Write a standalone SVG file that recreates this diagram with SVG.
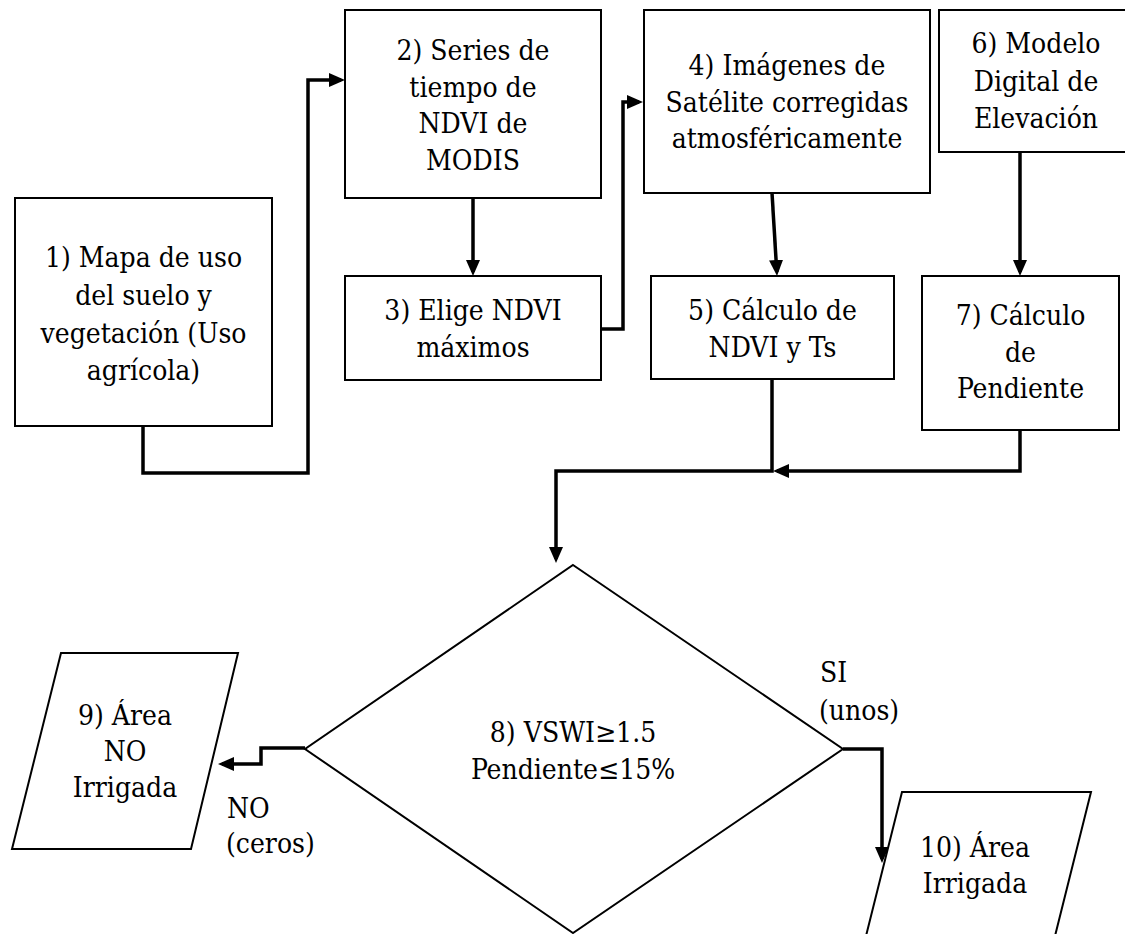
<svg xmlns="http://www.w3.org/2000/svg" width="1125" height="934" viewBox="0 0 1125 934">
<style>
.n{fill:#fff;stroke:#000;stroke-width:2}
text{font-family:'DejaVu Serif Condensed','DejaVu Serif',serif;font-stretch:condensed;font-size:28px;fill:#000}
.t{text-anchor:middle}
.c{fill:none;stroke:#000;stroke-width:3.5;marker-end:url(#ah)}
</style>
<defs>
<marker id="ah" viewBox="0 0 16 14" refX="12" refY="7" markerWidth="16" markerHeight="14" markerUnits="userSpaceOnUse" orient="auto">
<path d="M0,0 L16,7 L0,14 z" fill="#000"/>
</marker>
</defs>
<rect width="1125" height="934" fill="#fff"/>
<g id="connectors">
<path class="c" d="M143,426 V473 H308 V80 H341"/>
<path class="c" d="M473,198 V272"/>
<path class="c" d="M601,329 H623 V102 H639"/>
<path class="c" d="M772,193 L776.8,272"/>
<path class="c" d="M1020,151 V272"/>
<path class="c" d="M772,379 V471 H556 V559"/>
<path class="c" d="M1020,430 V471 H777"/>
<path class="c" d="M305,748 H261 V764 H222"/>
<path class="c" d="M843,749 H882 V859"/>
</g>
<g id="n1"><rect class="n" x="15" y="198" width="257" height="228"/>
<text class="t"><tspan x="143.5" y="267">1) Mapa de uso</tspan><tspan x="143.5" y="305">del suelo y</tspan><tspan x="143.5" y="343">vegetación (Uso</tspan><tspan x="143.5" y="380">agrícola)</tspan></text></g>
<g id="n2"><rect class="n" x="345" y="10" width="256" height="188"/>
<text class="t"><tspan x="473" y="60">2) Series de</tspan><tspan x="473" y="97">tiempo de</tspan><tspan x="473" y="133">NDVI de</tspan><tspan x="473" y="170">MODIS</tspan></text></g>
<g id="n3"><rect class="n" x="345" y="276" width="256" height="104"/>
<text class="t"><tspan x="473" y="320">3) Elige NDVI</tspan><tspan x="473" y="357">máximos</tspan></text></g>
<g id="n4"><rect class="n" x="644" y="10" width="286" height="183"/>
<text class="t"><tspan x="787" y="75">4) Imágenes de</tspan><tspan x="787" y="112">Satélite corregidas</tspan><tspan x="787" y="148">atmosféricamente</tspan></text></g>
<g id="n5"><rect class="n" x="651" y="276" width="243" height="103"/>
<text class="t"><tspan x="772.5" y="320">5) Cálculo de</tspan><tspan x="772.5" y="357">NDVI y Ts</tspan></text></g>
<g id="n6"><rect class="n" x="939" y="10" width="194" height="142"/>
<text class="t"><tspan x="1036" y="53">6) Modelo</tspan><tspan x="1036" y="91">Digital de</tspan><tspan x="1036" y="128">Elevación</tspan></text></g>
<g id="n7"><rect class="n" x="922" y="276" width="197" height="154"/>
<text class="t"><tspan x="1020.5" y="325">7) Cálculo</tspan><tspan x="1020.5" y="362">de</tspan><tspan x="1020.5" y="398">Pendiente</tspan></text></g>
<g id="n8"><polygon class="n" points="573,565 843,749 573,933 305,749"/>
<text class="t"><tspan x="573" y="742">8) VSWI≥1.5</tspan><tspan x="573" y="779">Pendiente≤15%</tspan></text></g>
<g id="n9"><polygon class="n" points="61,653 238,653 191,849 12,849"/>
<text class="t"><tspan x="125" y="725">9) Área</tspan><tspan x="125" y="761">NO</tspan><tspan x="125" y="797">Irrigada</tspan></text></g>
<g id="n10"><polygon class="n" points="902,792 1091,792 1042,988 853,988"/>
<text class="t"><tspan x="975" y="857">10) Área</tspan><tspan x="975" y="893">Irrigada</tspan></text></g>
<g id="labels">
<text><tspan x="227" y="818">NO</tspan><tspan x="226" y="853">(ceros)</tspan></text>
<text><tspan x="820" y="682">SI</tspan><tspan x="819" y="720">(unos)</tspan></text>
</g>
</svg>
